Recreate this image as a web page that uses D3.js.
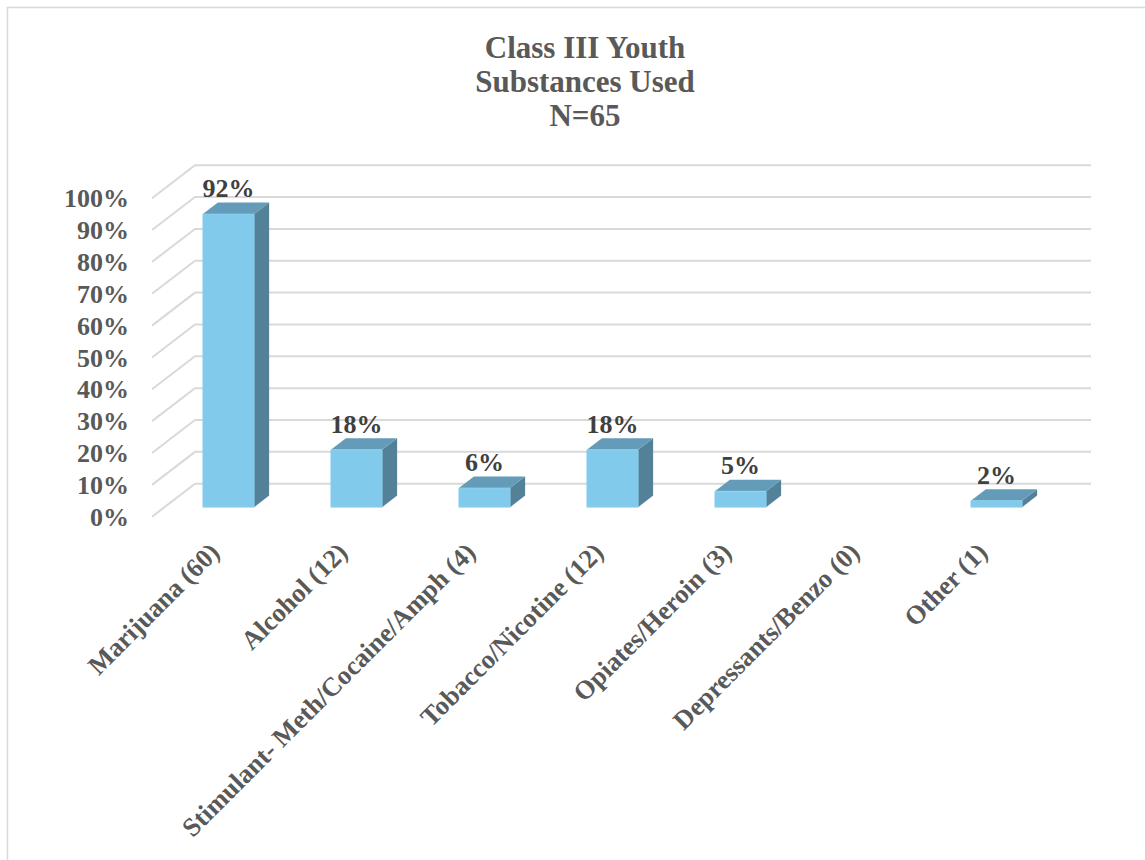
<!DOCTYPE html>
<html>
<head>
<meta charset="utf-8">
<script src="https://cdn.jsdelivr.net/npm/d3@7"></script>
<style>
  html, body { margin: 0; padding: 0; background: #ffffff; }
  svg { display: block; }
</style>
</head>
<body>
<div id="chart"></div>
<script>
// Substances used by Class III youth (N=65), percent of youth
const categories = [
  "Marijuana (60)",
  "Alcohol (12)",
  "Stimulant- Meth/Cocaine/Amph (4)",
  "Tobacco/Nicotine (12)",
  "Opiates/Heroin (3)",
  "Depressants/Benzo (0)",
  "Other (1)"
];
const percents = [92, 18, 6, 18, 5, 0, 2];
const tickValues = [0, 10, 20, 30, 40, 50, 60, 70, 80, 90, 100];
const titleLines = ["Class III Youth", "Substances Used", "N=65"];

const W = 1145, H = 860;
const serif = "'Times New Roman', 'Liberation Serif', serif";

const svg = d3.select("#chart").append("svg")
  .attr("width", W).attr("height", H);

// chart frame
svg.append("rect")
  .attr("x", 7.5).attr("y", 7.5)
  .attr("width", W + 20).attr("height", H + 20)
  .attr("fill", "#fff").attr("stroke", "#d9d9d9").attr("stroke-width", 1.5);

// title
svg.append("g").selectAll("text").data(titleLines).join("text")
  .attr("x", 585).attr("y", (d, i) => 58 + i * 34)
  .attr("text-anchor", "middle")
  .attr("font-family", serif).attr("font-weight", "bold")
  .attr("font-size", 31).attr("fill", "#595959")
  .text(d => d);

// 3D projection: front plane scales plus a depth offset
const x = d3.scaleBand(categories, [152, 1048]).paddingInner(0.6).paddingOuter(0.3);
const y = d3.scaleLinear([0, 100], [516.7, 198.2]);
const DEPTH_X = 43, DEPTH_Y = -33;
const proj = (px, v, z) => [px + z * DEPTH_X, y(v) + z * DEPTH_Y];
const Z_FRONT = 0.29, Z_BACK = 0.64;

// gridlines: diagonal on the side wall, horizontal on the back wall
const grid = svg.append("g").attr("fill", "none")
  .attr("stroke", "#d9d9d9").attr("stroke-width", 2);
const xLeft = x.range()[0], xRight = x.range()[1];
grid.selectAll("path").data(tickValues).join("path")
  .attr("d", v => {
    const a = proj(xLeft, v, 0), b = proj(xLeft, v, 1), c = proj(xRight, v, 1);
    return `M${a[0]},${a[1]}L${b[0]},${b[1]}L${c[0]},${c[1]}`;
  });

// y axis labels
svg.append("g").selectAll("text").data(tickValues).join("text")
  .attr("x", 129).attr("y", v => y(v)).attr("dy", "0.35em")
  .attr("text-anchor", "end")
  .attr("font-family", serif).attr("font-weight", "bold")
  .attr("font-size", 26).attr("fill", "#595959")
  .text(v => v + "%");

// bars as three visible faces
const data = categories.map((c, i) => ({ c, v: percents[i] })).filter(d => d.v > 0);
const poly = pts => "M" + pts.map(p => p.join(",")).join("L") + "Z";
const bars = svg.append("g").selectAll("g").data(data).join("g");

bars.append("path") // side face
  .attr("fill", "#538197")
  .attr("d", d => {
    const x1 = x(d.c) + x.bandwidth();
    return poly([proj(x1, 0, Z_FRONT), proj(x1, 0, Z_BACK), proj(x1, d.v, Z_BACK), proj(x1, d.v, Z_FRONT)]);
  });
bars.append("path") // top face
  .attr("fill", "#639bb8")
  .attr("d", d => {
    const x0 = x(d.c), x1 = x0 + x.bandwidth();
    return poly([proj(x0, d.v, Z_FRONT), proj(x1, d.v, Z_FRONT), proj(x1, d.v, Z_BACK), proj(x0, d.v, Z_BACK)]);
  });
bars.append("path") // front face
  .attr("fill", "#82caeb")
  .attr("stroke", "#8fd2f0").attr("stroke-width", 0.8)
  .attr("d", d => {
    const x0 = x(d.c), x1 = x0 + x.bandwidth();
    return poly([proj(x0, 0, Z_FRONT), proj(x1, 0, Z_FRONT), proj(x1, d.v, Z_FRONT), proj(x0, d.v, Z_FRONT)]);
  });

// value labels above each bar
bars.append("text")
  .attr("x", d => proj(x(d.c) + x.bandwidth() / 2, d.v, Z_FRONT)[0])
  .attr("y", d => proj(0, d.v, Z_BACK)[1] - 5.5)
  .attr("text-anchor", "middle")
  .attr("font-family", serif).attr("font-weight", "bold")
  .attr("font-size", 26).attr("fill", "#404040")
  .text(d => d.v + "%");

// rotated category labels
svg.append("g").selectAll("text").data(categories).join("text")
  .attr("transform", c => `translate(${x(c) + x.bandwidth() / 2 + 5},554) rotate(-45)`)
  .attr("text-anchor", "end")
  .attr("font-family", serif).attr("font-weight", "bold")
  .attr("font-size", 26.5).attr("fill", "#595959")
  .text(c => c);
</script>
</body>
</html>
